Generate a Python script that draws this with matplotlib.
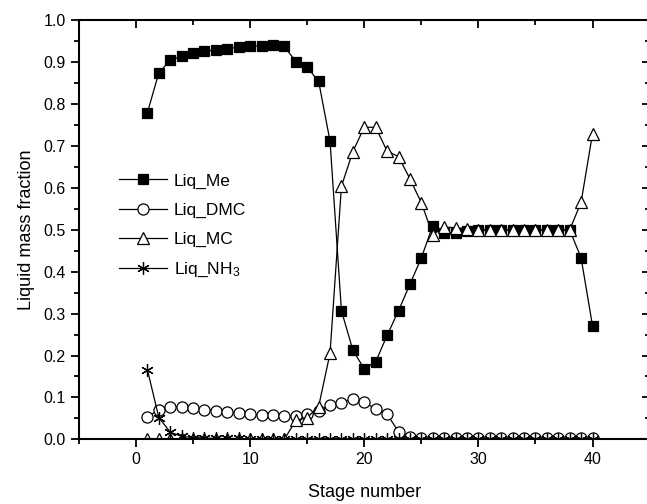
import numpy as np
import matplotlib
matplotlib.use('Agg')
import matplotlib.pyplot as plt

plt.rcParams['font.family'] = ['Liberation Sans', 'DejaVu Sans']
plt.rcParams['mathtext.fontset'] = 'custom'
plt.rcParams['mathtext.rm'] = 'Liberation Sans'
plt.rcParams['mathtext.it'] = 'Liberation Sans:italic'

stages = np.arange(1, 41)

liq_me = [0.780, 0.875, 0.905, 0.915, 0.922, 0.926, 0.930, 0.933, 0.936, 0.938,
          0.940, 0.942, 0.938, 0.902, 0.888, 0.855, 0.712, 0.307, 0.213, 0.168,
          0.185, 0.248, 0.307, 0.370, 0.433, 0.510, 0.492, 0.492, 0.497, 0.500,
          0.500, 0.500, 0.500, 0.500, 0.500, 0.500, 0.500, 0.500, 0.433, 0.271]

liq_dmc = [0.053, 0.071, 0.077, 0.076, 0.074, 0.071, 0.068, 0.065, 0.062, 0.060,
           0.058, 0.057, 0.056, 0.055, 0.060, 0.068, 0.081, 0.087, 0.097, 0.089,
           0.072, 0.060, 0.018, 0.006, 0.003, 0.003, 0.003, 0.003, 0.003, 0.003,
           0.003, 0.003, 0.003, 0.003, 0.003, 0.003, 0.003, 0.003, 0.003, 0.003]

liq_mc = [0.000, 0.000, 0.000, 0.000, 0.000, 0.000, 0.000, 0.000, 0.000, 0.000,
          0.000, 0.000, 0.000, 0.045, 0.052, 0.078, 0.205, 0.604, 0.687, 0.745,
          0.745, 0.688, 0.675, 0.622, 0.565, 0.488, 0.507, 0.505, 0.503, 0.500,
          0.500, 0.500, 0.500, 0.500, 0.500, 0.500, 0.500, 0.500, 0.566, 0.730]

liq_nh3 = [0.166, 0.052, 0.017, 0.007, 0.004, 0.003, 0.002, 0.002, 0.002, 0.001,
           0.001, 0.001, 0.001, 0.001, 0.001, 0.001, 0.001, 0.001, 0.001, 0.001,
           0.001, 0.001, 0.001, 0.001, 0.001, 0.001, 0.001, 0.001, 0.001, 0.001,
           0.001, 0.001, 0.001, 0.001, 0.001, 0.001, 0.001, 0.001, 0.001, 0.001]

fig = plt.figure(figsize=(6.47, 5.04), dpi=100)
# right spine sits just past the edge of the figure
ax = fig.add_axes([0.122, 0.1284, 0.882, 0.831])

kw = dict(color='black', lw=0.9, mec='black', mew=0.9)
ax.plot(stages, liq_me, marker='s', ms=7.5, mfc='black', label='Liq_Me', **kw)
ax.plot(stages, liq_dmc, marker='o', ms=8, mfc='white', label='Liq_DMC', **kw)
ax.plot(stages, liq_mc, marker='^', ms=8.5, mfc='white', label='Liq_MC', **kw)
ax.plot(stages, liq_nh3, marker=(6, 2, 0), ms=9, label='Liq_NH$_3$', **kw)

ax.set_xlim(-5, 45)
ax.set_ylim(0, 1.0)
ax.set_xticks([0, 10, 20, 30, 40])
ax.set_xticks(np.arange(-5, 46, 5), minor=True)
ax.set_yticks(np.arange(0, 1.01, 0.1))
ax.set_yticks(np.arange(0, 1.01, 0.05), minor=True)
ax.yaxis.set_major_formatter(matplotlib.ticker.FormatStrFormatter('%.1f'))

for s in ax.spines.values():
    s.set_linewidth(1.5)

ax.tick_params(which='both', direction='out', labelsize=11.5, width=1.3)
ax.tick_params(which='major', length=6)
ax.tick_params(which='minor', length=3.5)
# mirrored ticks on top and right, pointing inward
ax.tick_params(which='both', top=True, right=True)
for t in ax.xaxis.get_major_ticks() + ax.xaxis.get_minor_ticks():
    t.tick2line.set_marker(matplotlib.lines.TICKDOWN)
for t in ax.yaxis.get_major_ticks() + ax.yaxis.get_minor_ticks():
    t.tick2line.set_marker(matplotlib.lines.TICKLEFT)

ax.set_xlabel('Stage number', fontsize=13, labelpad=12)
ax.set_ylabel('Liquid mass fraction', fontsize=13, labelpad=6)

ax.legend(loc='upper left', bbox_to_anchor=(0.07, 0.635), frameon=False,
          fontsize=12.5, handlelength=2.75, handletextpad=0.4, labelspacing=0.8,
          borderpad=0, borderaxespad=0)

fig.savefig('out.png', dpi=100)
